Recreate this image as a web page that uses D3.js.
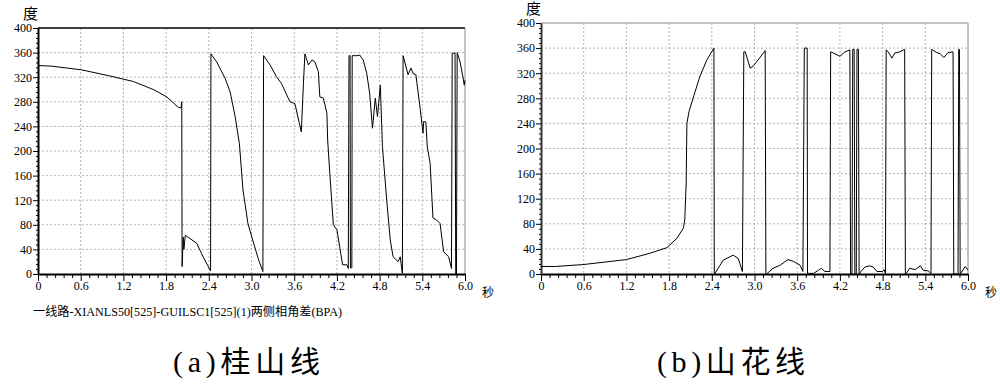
<!DOCTYPE html>
<html>
<head>
<meta charset="utf-8">
<script src="https://cdn.jsdelivr.net/npm/d3@7"></script>
<style>
  body { margin: 0; background: #fff; }
  svg { display: block; }
  svg text { font-family: "Liberation Serif", "Noto Sans CJK SC", serif; }
</style>
</head>
<body>
<div class="canvas"></div>
<script>
// Data (time in seconds, angle in degrees)
const x_ticks = [0, 0.6, 1.2, 1.8, 2.4, 3.0, 3.6, 4.2, 4.8, 5.4, 6.0];
const y_ticks = [0, 40, 80, 120, 160, 200, 240, 280, 320, 360, 400];

// (a) 桂山线
const times_a = [0, 0.19, 0.61, 1.01, 1.34, 1.62, 1.81, 1.97, 2.01, 2.02, 2.025, 2.04, 2.05, 2.07, 2.23, 2.32, 2.42, 2.425, 2.43,
  2.51, 2.63, 2.70, 2.77, 2.83, 2.88, 2.95, 3.03, 3.10, 3.16, 3.17, 3.26, 3.35, 3.42, 3.54, 3.61, 3.70, 3.73, 3.75,
  3.80, 3.85, 3.89, 3.94, 3.96, 4.01, 4.06, 4.07, 4.10, 4.15, 4.20, 4.24, 4.28, 4.34, 4.36, 4.37, 4.385, 4.39, 4.41,
  4.415, 4.48, 4.52, 4.57, 4.62, 4.66, 4.70, 4.74, 4.77, 4.81, 4.84, 4.90, 4.95, 4.99, 5.06, 5.09, 5.12, 5.13, 5.20,
  5.24, 5.27, 5.31, 5.37, 5.41, 5.42, 5.45, 5.47, 5.51, 5.55, 5.60, 5.65, 5.70, 5.77, 5.81, 5.82, 5.86, 5.87, 5.88,
  5.89, 5.93, 5.97, 5.99, 6.0];
const values_a = [339, 338, 332, 322, 313, 300, 288, 271, 270, 280, 12, 60, 40, 63, 50, 28, 6, 5, 358,
  345, 318, 296, 256, 212, 137, 82, 50, 23, 4, 355, 340, 321, 310, 280, 277, 231, 310, 358,
  340, 348, 345, 329, 288, 286, 261, 218, 164, 80, 72, 44, 15, 15, 9, 355, 355, 10, 10,
  355, 355, 356, 348, 326, 294, 237, 286, 256, 307, 207, 120, 55, 28, 20, 28, 1, 355, 324,
  335, 326, 324, 269, 229, 248, 247, 207, 180, 91, 88, 82, 36, 28, 9, 359, 359, 0, 0,
  360, 345, 321, 307, 315];

// (b) 山花线
const times_b = [0, 0.2, 0.59, 1.20, 1.53, 1.77, 1.91, 2.00, 2.02, 2.04, 2.05, 2.08, 2.15, 2.23, 2.33, 2.43, 2.435, 2.445,
  2.56, 2.70, 2.77, 2.83, 2.85, 2.87, 2.94, 2.98, 3.05, 3.15, 3.16, 3.17, 3.26, 3.36, 3.47, 3.55, 3.64, 3.68, 3.70,
  3.74, 3.745, 3.76, 3.83, 3.90, 3.94, 3.99, 4.06, 4.07, 4.11, 4.20, 4.27, 4.34, 4.35, 4.37, 4.38, 4.40, 4.41, 4.43,
  4.44, 4.46, 4.47, 4.51, 4.55, 4.62, 4.67, 4.72, 4.80, 4.82, 4.84, 4.85, 4.88, 4.93, 4.97, 5.04, 5.11, 5.12, 5.14,
  5.18, 5.26, 5.33, 5.37, 5.44, 5.48, 5.49, 5.56, 5.61, 5.66, 5.72, 5.79, 5.80, 5.86, 5.87, 5.88, 5.89, 5.91, 5.96, 6.0];
const values_b = [12, 12, 15, 23, 33, 42, 57, 73, 86, 145, 240, 259, 285, 314, 341, 360, 1, 1,
  22, 30, 25, 4, 354, 354, 328, 331, 341, 356, 0, 0, 9, 14, 23, 20, 14, 4, 360,
  360, 1, 1, 1, 6, 9, 4, 4, 354, 352, 347, 354, 357, 0, 0, 358, 358, 0, 0,
  358, 358, 0, 6, 11, 13, 11, 4, 4, 7, 1, 357, 354, 344, 352, 354, 358, 0, 2,
  9, 7, 13, 6, 5, 1, 358, 353, 351, 345, 353, 354, 0, 0, 358, 358, 0, 3, 12, 6];

const legend_a = "一线路-XIANLS50[525]-GUILSC1[525](1)两侧相角差(BPA)";

// Settings
const width = 1000;
const height = 386;
const grid_color = "#b5b5b5";

const svg = d3.select(".canvas").append("svg")
  .attr("width", width)
  .attr("height", height);

function draw_panel(p) {
  const g = svg.append("g");
  const x = d3.scaleLinear().domain([0, 6]).range([p.left, p.right]);
  const y = d3.scaleLinear().domain([0, 400]).range([p.bottom, p.top]);

  // grid
  g.selectAll("line.vgrid")
    .data(x_ticks.slice(1, -1))
    .enter().append("line")
    .attr("x1", d => x(d)).attr("x2", d => x(d))
    .attr("y1", p.top).attr("y2", p.bottom)
    .attr("stroke", grid_color).attr("stroke-dasharray", "2,2");
  g.selectAll("line.hgrid")
    .data(y_ticks.slice(1, -1))
    .enter().append("line")
    .attr("x1", p.left).attr("x2", p.right)
    .attr("y1", d => y(d)).attr("y2", d => y(d))
    .attr("stroke", grid_color).attr("stroke-dasharray", "2,2");

  // frame top/right
  g.append("line")
    .attr("x1", p.left).attr("x2", p.right)
    .attr("y1", p.top).attr("y2", p.top)
    .attr("stroke", p.top_color).attr("stroke-width", p.top_width);
  g.append("line")
    .attr("x1", p.right).attr("x2", p.right)
    .attr("y1", p.top).attr("y2", p.bottom)
    .attr("stroke", "#888");

  // minor ticks
  const x_minor = d3.range(0, 51).map(i => i * 0.12).filter(d => Math.round(d * 100) % 60 != 0);
  const y_minor = d3.range(0, 51).map(i => i * 8).filter(d => d % 40 != 0);

  g.append("g")
    .attr("transform", "translate(0," + p.bottom + ")")
    .call(d3.axisBottom(x).tickValues(x_minor).tickSize(4).tickFormat(""))
    .call(a => a.select(".domain").remove());
  g.append("g")
    .attr("transform", "translate(" + p.left + ",0)")
    .call(d3.axisLeft(y).tickValues(y_minor).tickSize(2).tickFormat(""))
    .call(a => a.select(".domain").remove());

  // major axes
  const x_axis = g.append("g")
    .attr("transform", "translate(0," + p.bottom + ")")
    .call(d3.axisBottom(x).tickValues(x_ticks).tickSize(7).tickSizeOuter(0)
      .tickFormat(d => d == 0 ? "0" : d.toFixed(1)));
  x_axis.attr("font-family", null);
  x_axis.select(".domain").attr("stroke-width", 2);
  x_axis.selectAll("text").attr("font-size", "12px").attr("dy", "0.6em").attr("y", 9);

  const y_axis = g.append("g")
    .attr("transform", "translate(" + p.left + ",0)")
    .call(d3.axisLeft(y).tickValues(y_ticks).tickSize(5).tickSizeOuter(0));
  y_axis.attr("font-family", null);
  y_axis.select(".domain").attr("stroke-width", 2).attr("stroke", p.axis_color);
  y_axis.selectAll("text").attr("font-size", "12px").attr("x", -6);

  // unit labels
  g.append("text")
    .attr("x", p.left - 15).attr("y", p.top - 9)
    .attr("font-size", "15px")
    .text("度");
  g.append("text")
    .attr("x", p.right + 17).attr("y", p.bottom + 23)
    .attr("font-size", "12px")
    .text("秒");

  // series
  const pts = p.times.map((t, i) => [t, p.values[i]]);
  const line = d3.line().x(d => x(d[0])).y(d => y(d[1]));
  g.append("path")
    .attr("d", line(pts))
    .attr("fill", "none")
    .attr("stroke", "#000")
    .attr("stroke-width", 1);

  // caption
  g.append("text")
    .attr("x", p.cap_x).attr("y", 372)
    .attr("font-size", "30px")
    .attr("textLength", p.cap_len)
    .attr("lengthAdjust", "spacing")
    .text(p.caption);
}

draw_panel({
  left: 38, right: 465, top: 28, bottom: 274,
  top_color: "#000", top_width: 1.5, axis_color: "#000",
  times: times_a, values: values_a,
  caption: "(a)桂山线", cap_x: 173, cap_len: 147
});

draw_panel({
  left: 541, right: 968, top: 23, bottom: 274,
  top_color: "#888", top_width: 1, axis_color: "#333",
  times: times_b, values: values_b,
  caption: "(b)山花线", cap_x: 657, cap_len: 148
});

// legend under (a)
svg.append("text")
  .attr("x", 33).attr("y", 316)
  .attr("font-size", "12px")
  .attr("textLength", 309)
  .attr("lengthAdjust", "spacingAndGlyphs")
  .text(legend_a);
</script>
</body>
</html>
